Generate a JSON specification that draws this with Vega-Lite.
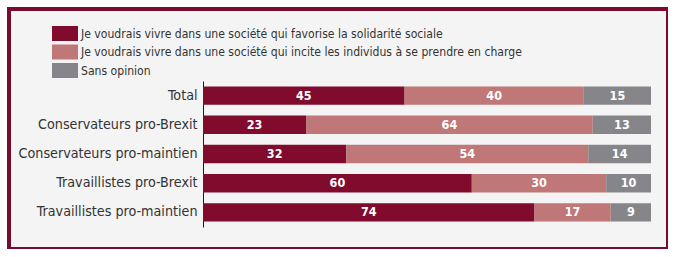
{
  "$schema": "https://vega.github.io/schema/vega-lite/v6.json",
  "width": 659,
  "height": 240,
  "autosize": {"type": "none"},
  "padding": {"left": 9, "top": 9, "right": 0, "bottom": 0},
  "background": "#ffffff",
  "config": {
    "font": "Liberation Sans Narrow, DejaVu Sans Condensed, sans-serif",
    "view": {"stroke": "#7b0b2c", "strokeWidth": 4, "fill": "#f4f4f4"}
  },
  "data": {
    "values": [
      {"groupe": "Total", "reponse": "Je voudrais vivre dans une société qui favorise la solidarité sociale", "valeur": 45},
      {"groupe": "Total", "reponse": "Je voudrais vivre dans une société qui incite les individus à se prendre en charge", "valeur": 40},
      {"groupe": "Total", "reponse": "Sans opinion", "valeur": 15},
      {"groupe": "Conservateurs pro-Brexit", "reponse": "Je voudrais vivre dans une société qui favorise la solidarité sociale", "valeur": 23},
      {"groupe": "Conservateurs pro-Brexit", "reponse": "Je voudrais vivre dans une société qui incite les individus à se prendre en charge", "valeur": 64},
      {"groupe": "Conservateurs pro-Brexit", "reponse": "Sans opinion", "valeur": 13},
      {"groupe": "Conservateurs pro-maintien", "reponse": "Je voudrais vivre dans une société qui favorise la solidarité sociale", "valeur": 32},
      {"groupe": "Conservateurs pro-maintien", "reponse": "Je voudrais vivre dans une société qui incite les individus à se prendre en charge", "valeur": 54},
      {"groupe": "Conservateurs pro-maintien", "reponse": "Sans opinion", "valeur": 14},
      {"groupe": "Travaillistes pro-Brexit", "reponse": "Je voudrais vivre dans une société qui favorise la solidarité sociale", "valeur": 60},
      {"groupe": "Travaillistes pro-Brexit", "reponse": "Je voudrais vivre dans une société qui incite les individus à se prendre en charge", "valeur": 30},
      {"groupe": "Travaillistes pro-Brexit", "reponse": "Sans opinion", "valeur": 10},
      {"groupe": "Travaillistes pro-maintien", "reponse": "Je voudrais vivre dans une société qui favorise la solidarité sociale", "valeur": 74},
      {"groupe": "Travaillistes pro-maintien", "reponse": "Je voudrais vivre dans une société qui incite les individus à se prendre en charge", "valeur": 17},
      {"groupe": "Travaillistes pro-maintien", "reponse": "Sans opinion", "valeur": 9}
    ]
  },
  "transform": [
    {"stack": "valeur", "groupby": ["groupe"], "sort": [{"field": "reponse", "order": "ascending"}], "as": ["debut", "fin"]},
    {"calculate": "(datum.debut + datum.fin) / 2", "as": "milieu"}
  ],
  "encoding": {
    "y": {
      "field": "groupe",
      "type": "nominal",
      "sort": ["Total", "Conservateurs pro-Brexit", "Conservateurs pro-maintien", "Travaillistes pro-Brexit", "Travaillistes pro-maintien"],
      "scale": {"range": [72, 218], "paddingInner": 0.37, "paddingOuter": 0.185},
      "axis": {
        "title": null,
        "orient": "left",
        "offset": -194,
        "ticks": false,
        "grid": false,
        "domainColor": "#1a1a1a",
        "domainWidth": 1,
        "labelPadding": 6,
        "labelFontSize": 14.2,
        "labelColor": "#333333",
        "labelLimit": 300
      }
    }
  },
  "layer": [
    {
      "mark": {"type": "bar"},
      "encoding": {
        "x": {"field": "debut", "type": "quantitative", "scale": {"domain": [0, 100], "range": [194, 642], "nice": false}, "axis": null},
        "x2": {"field": "fin"},
        "color": {
          "field": "reponse",
          "type": "nominal",
          "scale": {"range": ["#800b2d", "#bf7777", "#86868a"]},
          "legend": {
            "title": null,
            "orient": "none",
            "legendX": 48.5,
            "legendY": 17,
            "padding": 0,
            "symbolType": "M-1.733,-1H1.733V1H-1.733Z",
            "symbolSize": 225,
            "symbolStrokeWidth": 0,
            "symbolOpacity": 1,
            "rowPadding": 3.5,
            "labelOffset": 8.5,
            "labelFontSize": 12.1,
            "labelColor": "#333333",
            "labelLimit": 600
          }
        }
      }
    },
    {
      "mark": {"type": "text", "color": "#ffffff", "fontWeight": "bold", "fontSize": 12.5, "baseline": "middle"},
      "encoding": {
        "x": {"field": "milieu", "type": "quantitative"},
        "text": {"field": "valeur", "type": "quantitative"}
      }
    }
  ]
}
